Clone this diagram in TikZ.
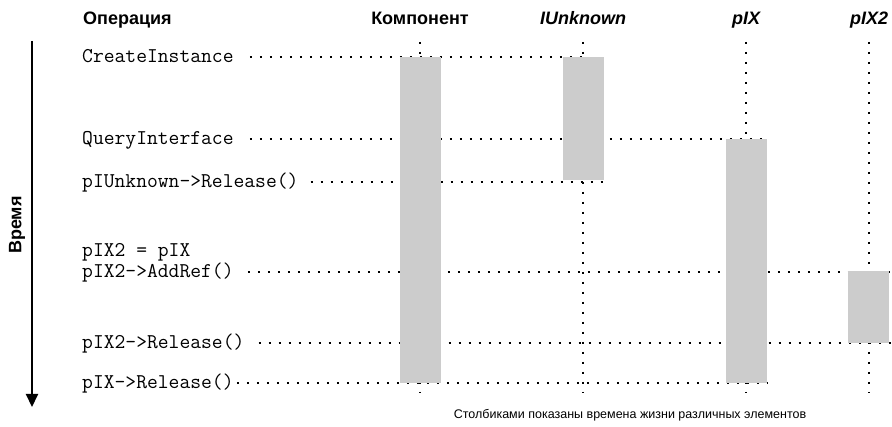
\documentclass[tikz,border=0pt]{standalone}
\usepackage{fontspec}
\setmainfont{Liberation Sans}
\usetikzlibrary{arrows.meta}
\tikzset{
  head/.style={font=\fontsize{18}{21}\selectfont\bfseries, anchor=base, inner sep=0pt},
  op/.style={font=\fontsize{21}{22}\selectfont\ttfamily, anchor=west, inner sep=0pt, text height=12pt, text depth=0pt},
  dotline/.style={line width=2pt, dash pattern=on 2.2pt off 7.8pt},
  bar/.style={fill=black!20},
}
\begin{document}
\begin{tikzpicture}[x=1pt,y=-1pt]
    \useasboundingbox (0,0) rectangle (892,427);

    \node[head, anchor=base west] (opn) at (83,25) {Операция};
    \node[head] (komp) at (420,25) {Компонент};
    \node[head] (unk) at (583,25) {\itshape IUnknown};
    \node[head] (pix) at (746,25) {\itshape pIX};
    \node[head] (pixb) at (869,25) {\itshape pIX2};

    \node[op] (ci) at (82,57) {CreateInstance};
    \node[op] (qi) at (82,139) {QueryInterface};
    \node[op] (rel) at (82,182) {pIUnknown->Release()};
    \node[op] (asg) at (82,251) {pIX2 = pIX};
    \node[op] (add) at (82,272) {pIX2->AddRef()};
    \node[op] (relb) at (82,343) {pIX2->Release()};
    \node[op] (relx) at (82,383) {pIX->Release()};

    \coordinate (t) at (0,42);
    \coordinate (b) at (0,393);
    \coordinate (r) at (892,0);

    % lifelines
    \draw[dotline] (komp |- t) -- (komp |- b);
    \draw[dotline] (unk |- t) -- (unk |- b);
    \draw[dotline] (pix |- t) -- (pix |- b);
    \draw[dotline] (pixb |- t) -- (pixb |- b);

    % calls
    \draw[dotline] ([xshift=16pt]ci.east) -- (ci.east -| unk);
    \draw[dotline] ([xshift=16pt]qi.east) -- ([xshift=21pt]qi.east -| pix);
    \draw[dotline] ([xshift=12pt]rel.east) -- ([xshift=21pt]rel.east -| unk);
    \draw[dotline] ([xshift=14pt]add.east) -- (add.east -| r);
    \draw[dotline] ([xshift=14pt]relb.east) -- (relb.east -| r);
    \draw[dotline] ([xshift=3pt]relx.east) -- ([xshift=21pt]relx.east -| pix);

    % lifetimes
    \fill[bar] (399.5,57.5) rectangle (440.5,383);
    \fill[bar] (562.5,57.5) rectangle (603.5,180);
    \fill[bar] (725.5,139.5) rectangle (766.5,383);
    \fill[bar] (848,271.5) rectangle (889,343);

    \coordinate (t0) at (32,41);
    \coordinate (t1) at (32,407);
    \draw[line width=2pt, -{Triangle[length=13pt,width=12pt]}] (t0) -- (t1);
    \node[head, anchor=center, rotate=90] (time) at (17,225) {Время};

    \node[font=\fontsize{12.5}{14}\selectfont] (note) at (630,415) {Столбиками показаны времена жизни различных элементов};
\end{tikzpicture}
\end{document}
